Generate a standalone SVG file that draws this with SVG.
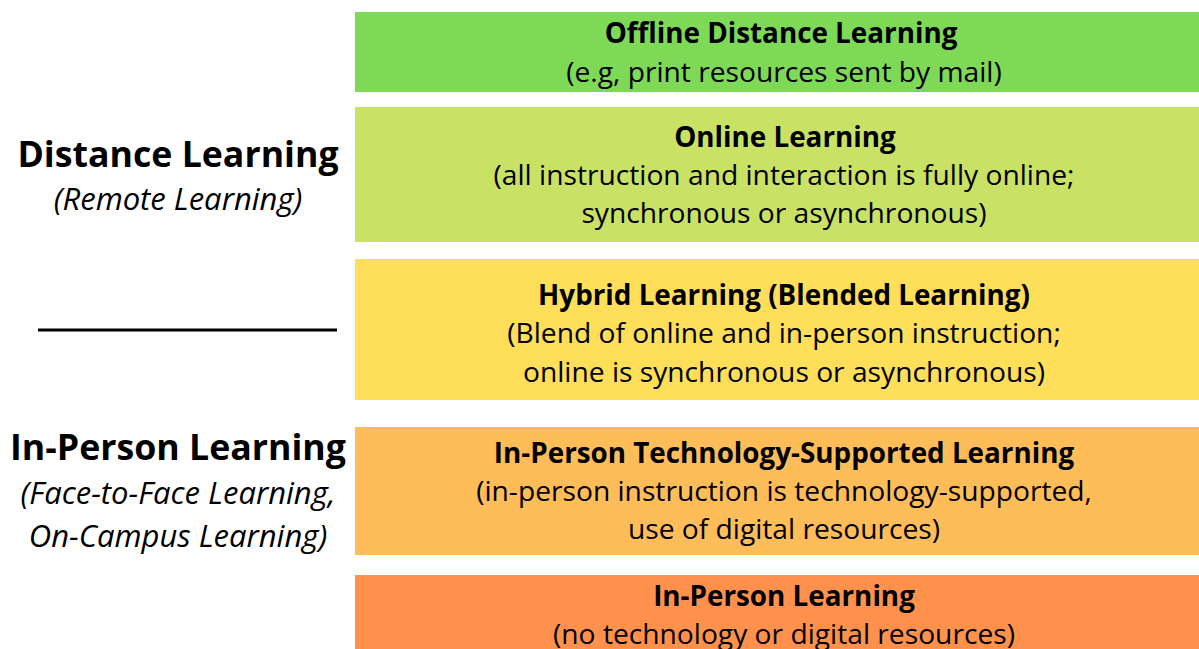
<svg xmlns="http://www.w3.org/2000/svg" width="1199" height="649" viewBox="0 0 1199 649">
<style>
text{font-family:"Open Sans","Noto Sans",sans-serif;fill:#000;text-anchor:middle}
.t{font-size:27.8px;font-weight:bold}
.b{font-size:28.2px}
.h{font-size:35.7px;font-weight:bold}
.i{font-size:31px;font-style:italic}
</style>
<rect width="1199" height="649" fill="#fff"/>
<g id="offline">
<rect x="355" y="12" width="844" height="80" fill="#7ED957"/>
<text class="t" x="781" y="43">Offline Distance Learning</text>
<text class="b" x="784" y="82">(e.g, print resources sent by mail)</text>
</g>
<g id="online">
<rect x="355" y="107" width="844" height="135" fill="#C9E265"/>
<text class="t" x="785" y="147">Online Learning</text>
<text class="b" x="784" y="185">(all instruction and interaction is fully online;</text>
<text class="b" x="784" y="223">synchronous or asynchronous)</text>
</g>
<g id="hybrid">
<rect x="355" y="259" width="844" height="141" fill="#FFDE59"/>
<text class="t" x="784" y="305">Hybrid Learning (Blended Learning)</text>
<text class="b" x="784" y="343">(Blend of online and in-person instruction;</text>
<text class="b" x="784" y="382">online is synchronous or asynchronous)</text>
</g>
<g id="techsupported">
<rect x="355" y="427" width="844" height="128" fill="#FFBD59"/>
<text class="t" x="784" y="463">In-Person Technology-Supported Learning</text>
<text class="b" x="784" y="501">(in-person instruction is technology-supported,</text>
<text class="b" x="784" y="539">use of digital resources)</text>
</g>
<g id="inperson">
<rect x="355" y="575" width="844" height="74" fill="#FF914D"/>
<text class="t" x="784" y="606">In-Person Learning</text>
<text class="b" x="784" y="644">(no technology or digital resources)</text>
</g>
<g id="distance-label">
<text class="h" x="178" y="167">Distance Learning</text>
<text class="i" x="178" y="210">(Remote Learning)</text>
</g>
<g id="inperson-label">
<text class="h" x="178" y="460">In-Person Learning</text>
<text class="i" x="178" y="504">(Face-to-Face Learning,</text>
<text class="i" x="178" y="547">On-Campus Learning)</text>
</g>
<g id="connectors">
<line x1="38" y1="330" x2="337" y2="330" stroke="#000" stroke-width="3"/>
</g>
</svg>
